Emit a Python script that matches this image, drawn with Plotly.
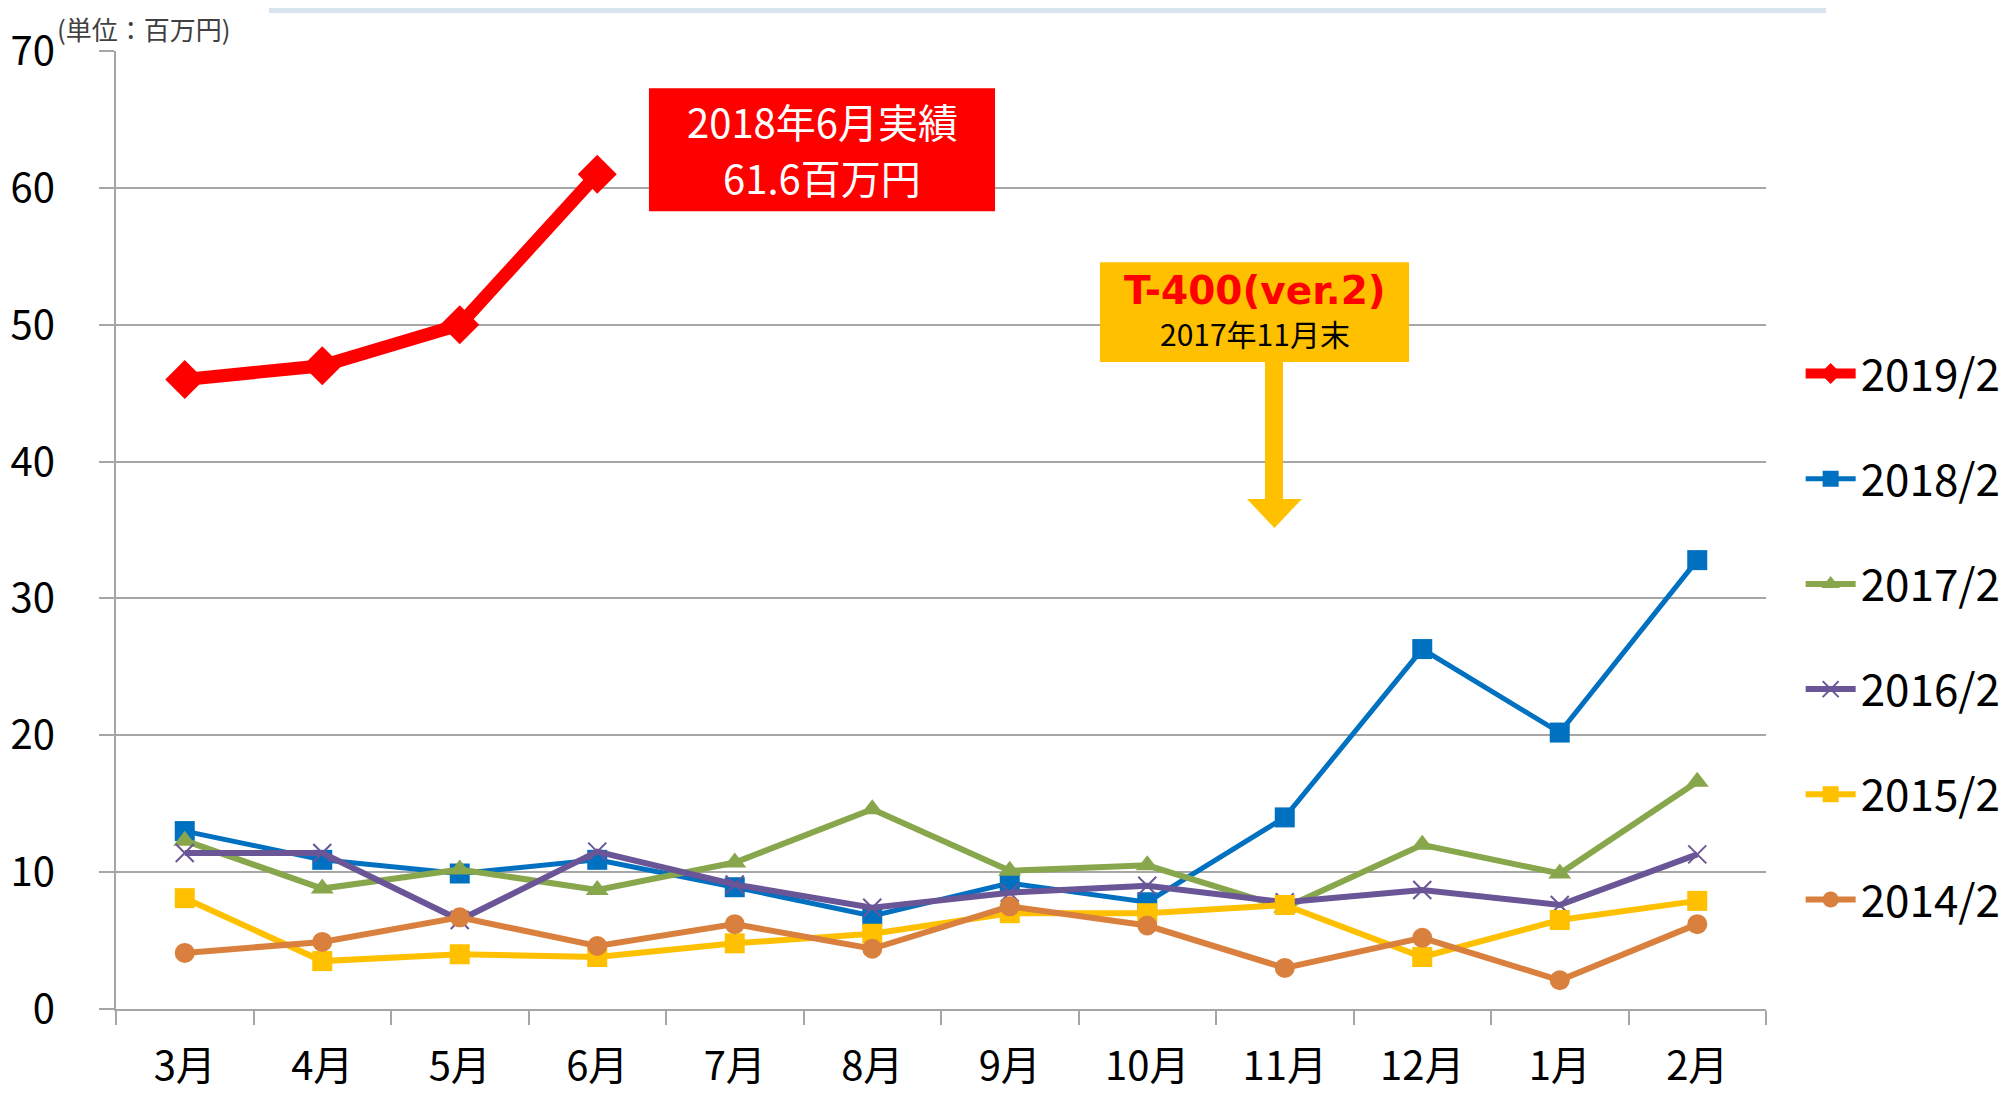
import plotly.graph_objects as go

months = ["3月", "4月", "5月", "6月", "7月", "8月", "9月", "10月", "11月", "12月", "1月", "2月"]

s2019 = [46.0, 47.0, 50.0, 61.0]
s2018 = [13.0, 10.9, 9.9, 10.9, 8.9, 6.8, 9.2, 7.8, 14.0, 26.3, 20.2, 32.8]
s2017 = [12.3, 8.8, 10.2, 8.7, 10.7, 14.6, 10.1, 10.5, 7.4, 12.0, 9.9, 16.6]
s2016 = [11.4, 11.4, 6.5, 11.5, 9.1, 7.4, 8.5, 9.0, 7.8, 8.7, 7.6, 11.3]
s2015 = [8.1, 3.5, 4.0, 3.8, 4.8, 5.5, 7.0, 7.0, 7.6, 3.8, 6.5, 7.9]
s2014 = [4.1, 4.9, 6.7, 4.6, 6.2, 4.4, 7.5, 6.1, 3.0, 5.2, 2.1, 6.2]

FONT = "Noto Sans CJK JP"
C_RED = "#FF0000"
C_BLUE = "#0070C0"
C_GREEN = "#88A64B"
C_PURPLE = "#6A5597"
C_YELLOW = "#FFC000"
C_ORANGE = "#DA803E"
C_GRID = "#A6A6A6"

fig = go.Figure()

def add(name, ys, color, lw, symbol, msize, rank, mline=0):
    fig.add_trace(go.Scatter(
        x=months[:len(ys)], y=ys, name=name, mode="lines+markers",
        line=dict(color=color, width=lw),
        marker=dict(symbol=symbol, size=msize, color=color,
                    line=dict(width=mline, color=color)),
        legendgroup=name, legendrank=rank,
    ))

add("2018/2", s2018, C_BLUE, 5, "square", 20, 2)
add("2017/2", s2017, C_GREEN, 6, "triangle-up", 20, 3)
add("2016/2", s2016, C_PURPLE, 6, "x-thin-open", 18, 4, 2)
add("2015/2", s2015, C_YELLOW, 6, "square", 20, 5)
add("2014/2", s2014, C_ORANGE, 6, "circle", 20, 6)
add("2019/2", s2019, C_RED, 13, "diamond", 30, 1)

shapes = [
    # light blue bar at the very top
    dict(type="rect", xref="paper", yref="paper", x0=0.0927, x1=1.0364, y0=1.0397, y1=1.0449,
         fillcolor="#DAE3F0", line=dict(width=0), layer="above"),
    # red box
    dict(type="rect", xref="x", yref="y", x0=3.376, x1=5.893, y0=58.29, y1=67.28,
         fillcolor=C_RED, line=dict(width=0), layer="above"),
    # yellow box
    dict(type="rect", xref="x", yref="y", x0=6.656, x1=8.904, y0=47.27, y1=54.57,
         fillcolor=C_YELLOW, line=dict(width=0), layer="above"),
    # arrow shaft
    dict(type="rect", xref="x", yref="y", x0=7.856, x1=7.987, y0=37.2, y1=47.3,
         fillcolor=C_YELLOW, line=dict(width=0), layer="above"),
    # arrow head
    dict(type="path", xref="x", yref="y",
         path="M 7.725 37.27 L 8.125 37.27 L 7.925 35.15 Z",
         fillcolor=C_YELLOW, line=dict(width=0), layer="above"),
]

annotations = [
    dict(xref="paper", yref="paper", x=-0.037, y=1.023, xanchor="left", yanchor="middle",
         text="(単位：百万円)", showarrow=False, font=dict(family=FONT, size=26, color="#404040")),
    dict(xref="x", yref="y", x=4.635, y=64.85, xanchor="center", yanchor="middle",
         text="2018年6月実績", showarrow=False,
         font=dict(family=FONT, size=40, color="white")),
    dict(xref="x", yref="y", x=4.635, y=60.76, xanchor="center", yanchor="middle",
         text="61.6百万円", showarrow=False,
         font=dict(family=FONT, size=40, color="white")),
    dict(xref="x", yref="y", x=7.78, y=52.5, xanchor="center", yanchor="middle",
         text="<b>T-400(ver.2)</b>", showarrow=False,
         font=dict(family="DejaVu Sans", size=39, color=C_RED)),
    dict(xref="x", yref="y", x=7.78, y=49.4, xanchor="center", yanchor="middle",
         text="2017年11月末", showarrow=False,
         font=dict(family=FONT, size=30, color="black")),
]

fig.update_layout(
    template="none",
    width=2001, height=1087,
    margin=dict(l=108, r=243, t=43, b=86, pad=0, autoexpand=False),
    paper_bgcolor="white", plot_bgcolor="white",
    font=dict(family=FONT, color="black"),
    showlegend=True,
    legend=dict(x=1.021, y=0.700, xanchor="left", yanchor="top",
                font=dict(family=FONT, size=44, color="black"),
                tracegroupgap=45, itemwidth=50, bgcolor="rgba(0,0,0,0)",
                borderwidth=0, traceorder="grouped"),
    shapes=shapes, annotations=annotations,
)

fig.update_xaxes(type="category", categoryorder="array", categoryarray=months,
                 automargin=False,
                 showgrid=False, showline=True, linecolor=C_GRID, linewidth=2,
                 ticks="outside", tickson="boundaries", ticklen=14, tickwidth=2, tickcolor=C_GRID,
                 tickfont=dict(family=FONT, size=40, color="black"),
                 ticklabelstandoff=21, range=[-0.5, 11.5])
fig.update_yaxes(range=[0, 70], dtick=10, tick0=0, showgrid=True, gridcolor=C_GRID, gridwidth=2,
                 automargin=False,
                 showline=True, linecolor=C_GRID, linewidth=2, zeroline=False,
                 ticks="outside", ticklen=15, tickwidth=2, tickcolor=C_GRID,
                 tickfont=dict(family=FONT, size=40, color="black"),
                 ticklabelstandoff=36)

fig.write_html("out.html")
